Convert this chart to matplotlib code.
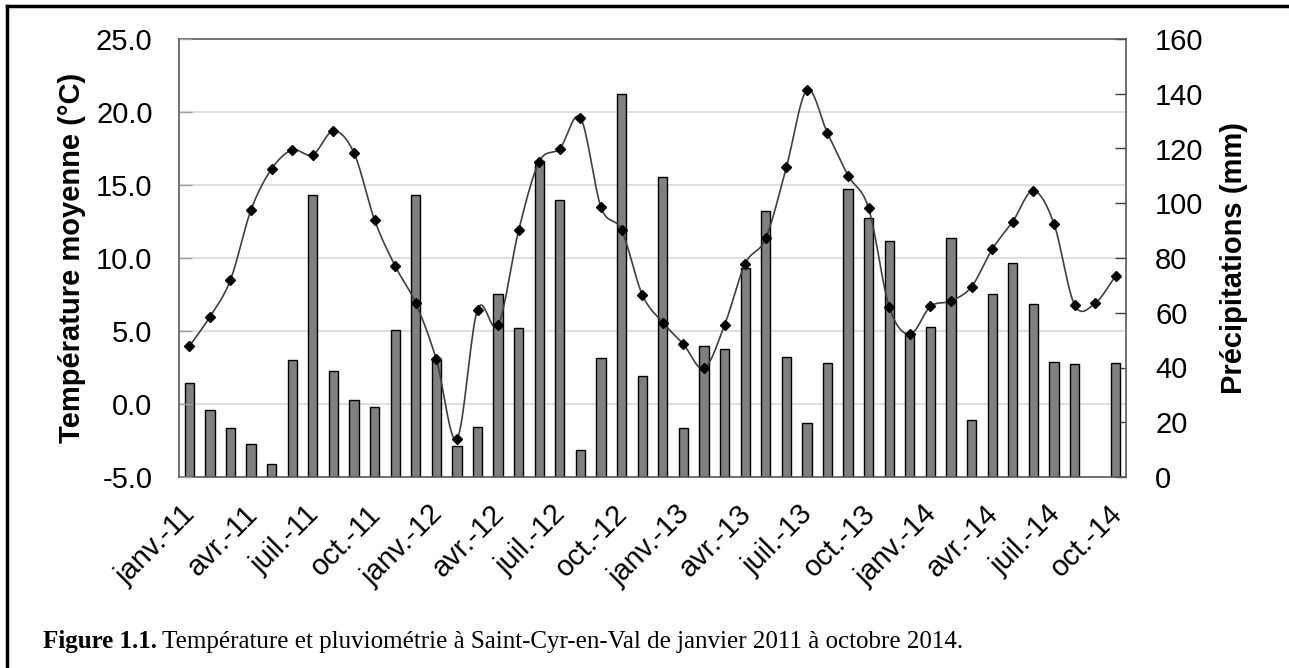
import numpy as np
import matplotlib
matplotlib.use("Agg")
import matplotlib.pyplot as plt
import matplotlib.transforms as mtransforms

plt.rcParams['font.family'] = ['Liberation Sans', 'DejaVu Sans']

# Mois de janvier 2011 à octobre 2014
months = ['janv.', 'févr.', 'mars', 'avr.', 'mai', 'juin',
          'juil.', 'août', 'sept.', 'oct.', 'nov.', 'déc.']
years = ['11', '12', '13', '14']
labels = [m + '-' + y for y in years for m in months][:46]

# Température moyenne mensuelle (°C)
temp = [3.96, 5.97, 8.5, 13.3, 16.1, 17.4, 17.07, 18.7, 17.2, 12.6, 9.45, 6.9,
        3.05, -2.4, 6.47, 5.4, 11.9, 16.6, 17.5, 19.6, 13.47, 11.9, 7.5, 5.58,
        4.1, 2.44, 5.4, 9.6, 11.35, 16.2, 21.5, 18.55, 15.65, 13.4, 6.65, 4.78,
        6.68, 7.06, 8.04, 10.6, 12.5, 14.6, 12.35, 6.8, 6.9, 8.8]

# Précipitations mensuelles (mm), septembre 2014 manquant
precip = [34.2, 24.5, 17.9, 12.2, 4.7, 42.6, 103.0, 38.8, 28.1, 25.7, 53.8, 103.0,
          43.0, 11.3, 18.3, 67.0, 54.3, 115.5, 101.1, 9.9, 43.5, 139.9, 36.9, 109.6,
          17.8, 47.7, 46.8, 76.2, 97.3, 44.0, 19.6, 41.8, 105.2, 94.5, 86.1, 52.7,
          54.8, 87.4, 20.7, 67.0, 78.2, 63.2, 42.1, 41.3, np.nan, 41.8]

temp_ticks = [-5, 0, 5, 10, 15, 20, 25]
precip_ticks = [0, 20, 40, 60, 80, 100, 120, 140, 160]


def smooth(x, y, n=20):
    # courbe lissée façon Excel (Catmull-Rom)
    x = np.asarray(x, float)
    y = np.asarray(y, float)
    px = np.concatenate([[x[0]], x, [x[-1]]])
    py = np.concatenate([[y[0]], y, [y[-1]]])
    xs, ys = [], []
    t = np.linspace(0, 1, n)
    for i in range(1, len(px) - 2):
        p0x, p1x, p2x, p3x = px[i - 1], px[i], px[i + 1], px[i + 2]
        p0y, p1y, p2y, p3y = py[i - 1], py[i], py[i + 1], py[i + 2]
        c1x = p1x + (p2x - p0x) / 6
        c1y = p1y + (p2y - p0y) / 6
        c2x = p2x - (p3x - p1x) / 6
        c2y = p2y - (p3y - p1y) / 6
        bx = (1-t)**3*p1x + 3*(1-t)**2*t*c1x + 3*(1-t)*t**2*c2x + t**3*p2x
        by = (1-t)**3*p1y + 3*(1-t)**2*t*c1y + 3*(1-t)*t**2*c2y + t**3*p2y
        xs.extend(bx)
        ys.extend(by)
    return xs, ys


fig = plt.figure(figsize=(12.89, 6.68), dpi=100)
ax = fig.add_axes([179/1289, 191/668, 947/1289, 438/668])
ax2 = ax.twinx()

x = np.arange(len(labels))

# barres : précipitations (axe de droite)
ax.bar(x, precip, width=0.45, color='#808080', edgecolor='black',
       linewidth=1, zorder=2)
ax.set_ylim(0, 160)
ax.set_xlim(-0.5, len(labels) - 0.5)
ax.yaxis.tick_right()
ax.yaxis.set_label_position('right')
ax.set_yticks(precip_ticks)
ax.tick_params(axis='y', direction='in', length=8, width=1,
               color='#404040', labelsize=21, pad=21)
ax.set_ylabel('Précipitations (mm)', fontsize=21, fontweight='bold',
              labelpad=12)

# lignes de grille alignées sur l'axe des températures
grid_tr = mtransforms.blended_transform_factory(ax.transAxes, ax2.transData)
for t in temp_ticks[1:-1]:
    ax.plot([0, 1], [t, t], transform=grid_tr, color='#d9d9d9',
            linewidth=1.2, zorder=1)

# courbe : température (axe de gauche)
sx, sy = smooth(x, temp)
ax2.plot(sx, sy, color='#404040', linewidth=1.2, zorder=3)
ax2.plot(x, temp, linestyle='none', marker='D', markersize=5,
         color='black', zorder=4)
ax2.set_ylim(-5, 25)
ax2.yaxis.tick_left()
ax2.yaxis.set_label_position('left')
ax2.set_yticks(temp_ticks)
ax2.set_yticklabels([f'{t:.1f}' for t in temp_ticks])
ax2.tick_params(axis='y', direction='in', length=9, width=1,
                color='#a0a0a0', labelsize=21, pad=19)
ax2.set_ylabel('Température moyenne (°C)', fontsize=21, fontweight='bold',
               labelpad=7)

for s in ax2.spines.values():
    s.set_visible(False)
for s in ax.spines.values():
    s.set_color('#595959')
    s.set_linewidth(1.2)

ax.set_xticks(x[::3])
ax.set_xticklabels(labels[::3], rotation=45, ha='right',
                   rotation_mode='anchor', fontsize=21)
ax.tick_params(axis='x', length=0, pad=15)
shift = mtransforms.ScaledTranslation(-8/100, -2/100, fig.dpi_scale_trans)
for lab in ax.get_xticklabels():
    lab.set_transform(lab.get_transform() + shift)

# légende de la figure
fig.canvas.draw()
renderer = fig.canvas.get_renderer()
t1 = fig.text(43/1289, 1 - 648/668, 'Figure 1.1.', fontsize=18,
              fontweight='bold', family=['Liberation Serif'])
bb = t1.get_window_extent(renderer)
fig.text(bb.x1/1289 + 5/1289, 1 - 648/668,
         'Température et pluviométrie à Saint-Cyr-en-Val de janvier 2011 à octobre 2014.',
         fontsize=18, family=['Liberation Serif'])

# cadre
fig.add_artist(plt.Line2D([7/1289, 7/1289], [0, 1 - 6/668], color='black',
                          linewidth=2.5, transform=fig.transFigure))
fig.add_artist(plt.Line2D([7/1289, 1], [1 - 6/668, 1 - 6/668], color='black',
                          linewidth=2.5, transform=fig.transFigure))

fig.savefig('out.png', dpi=100)
